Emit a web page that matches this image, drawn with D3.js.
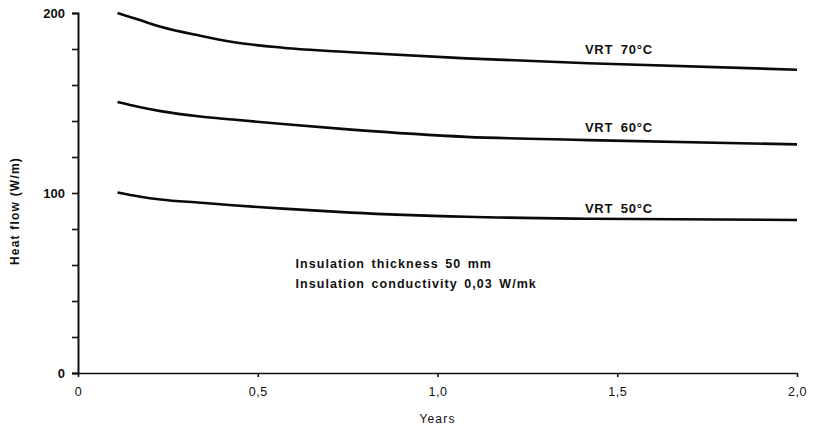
<!DOCTYPE html>
<html>
<head>
<meta charset="utf-8">
<script src="https://cdn.jsdelivr.net/npm/d3@7"></script>
<style>
  html, body { margin: 0; padding: 0; background: #fff; }
  svg { display: block; }
  text { font-family: "Liberation Sans", Arial, sans-serif; fill: #111; }
</style>
</head>
<body>
<svg id="chart" width="815" height="429"></svg>
<script>
// Heat flow from a pre-insulated pipe over time, for three supply temperatures
const years  = [0.11, 0.17, 0.23, 0.34, 0.43, 0.57, 0.76, 1.08, 1.42, 2.0];
const vrt70  = [200, 196.2, 192.4, 187.4, 183.9, 180.7, 178.2, 174.8, 172.1, 168.5];
const vrt60  = [150.5, 147.8, 145.5, 142.5, 140.8, 138.3, 135.2, 131.2, 129.4, 127];
const vrt50  = [100.3, 98.1, 96.4, 94.6, 93.2, 91.3, 89.1, 86.8, 85.7, 85];
const seriesNames = ["VRT 70°C", "VRT 60°C", "VRT 50°C"];
const labelYears  = [1.41, 1.41, 1.41];
const labelValues = [180, 136.5, 91.5];

const xTicks = [0, 0.5, 1.0, 1.5, 2.0];
const xTickLabels = ["0", "0,5", "1,0", "1,5", "2,0"];
const yTicks = [0, 20, 40, 60, 80, 100, 120, 140, 160, 180, 200];
const yLabelled = [0, 100, 200];

const notes = ["Insulation thickness 50 mm", "Insulation conductivity 0,03 W/mk"];
const noteYear = 0.605;
const noteValues = [61, 50];

const margin = { left: 78, top: 13, right: 18, bottom: 56 };
const W = 815, H = 429;
const innerW = W - margin.left - margin.right;
const innerH = H - margin.top - margin.bottom;

const svg = d3.select("#chart");
const g = svg.append("g").attr("transform", `translate(${margin.left},${margin.top})`);

const x = d3.scaleLinear().domain([0, 2]).range([0, innerW]);
const y = d3.scaleLinear().domain([0, 200]).range([innerH, 0]);

// axes
const yAxis = d3.axisLeft(y)
  .tickValues(yTicks)
  .tickSize(6)
  .tickFormat(d => yLabelled.includes(d) ? String(d) : "");
const gy = g.append("g").call(yAxis);
gy.select(".domain").attr("stroke", "#111").attr("stroke-width", 2);
gy.selectAll(".tick line").attr("stroke", "#111").attr("stroke-width", 1.6);
gy.selectAll(".tick text")
  .attr("x", -13)
  .style("font-size", "13px")
  .style("font-weight", "bold");

const xAxis = d3.axisBottom(x)
  .tickValues(xTicks)
  .tickSize(4)
  .tickSizeOuter(0)
  .tickFormat((d, i) => xTickLabels[i]);
const gx = g.append("g").attr("transform", `translate(0,${innerH})`).call(xAxis);
gx.select(".domain").attr("stroke", "#111").attr("stroke-width", 1.6);
gx.selectAll(".tick line").attr("stroke", "#111").attr("stroke-width", 1.6);
gx.selectAll(".tick text")
  .attr("y", 14)
  .style("font-size", "12.5px")
  .style("letter-spacing", "0.5px");

// axis titles
g.append("text")
  .attr("x", x(1.0))
  .attr("y", innerH + 50)
  .attr("text-anchor", "middle")
  .style("font-size", "12px")
  .style("letter-spacing", "1.2px")
  .text("Years");

svg.append("text")
  .attr("transform", `translate(19,${margin.top + y(90)}) rotate(-90)`)
  .attr("text-anchor", "middle")
  .style("font-size", "12px")
  .style("font-weight", "bold")
  .style("letter-spacing", "1.2px")
  .text("Heat flow (W/m)");

// curves
const line = d3.line()
  .x(d => x(d[0]))
  .y(d => y(d[1]))
  .curve(d3.curveMonotoneX);

[vrt70, vrt60, vrt50].forEach(vals => {
  g.append("path")
    .datum(years.map((yr, i) => [yr, vals[i]]))
    .attr("fill", "none")
    .attr("stroke", "#0a0a0a")
    .attr("stroke-width", 2.6)
    .attr("d", line);
});

// curve labels
seriesNames.forEach((name, i) => {
  g.append("text")
    .attr("x", x(labelYears[i]))
    .attr("y", y(labelValues[i]) + 5)
    .style("font-size", "13px")
    .style("font-weight", "bold")
    .style("letter-spacing", "0.8px")
    .style("word-spacing", "3px")
    .text(name);
});

// annotation
notes.forEach((t, i) => {
  g.append("text")
    .attr("x", x(noteYear))
    .attr("y", y(noteValues[i]) + 4.5)
    .style("font-size", "12.5px")
    .style("font-weight", "bold")
    .style("letter-spacing", "1.05px")
    .style("word-spacing", "2px")
    .text(t);
});
</script>
</body>
</html>
